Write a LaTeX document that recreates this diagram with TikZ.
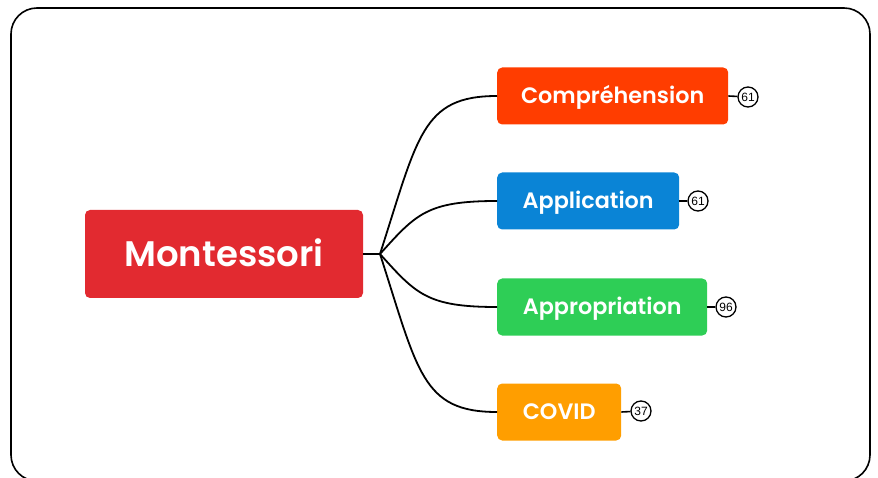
\documentclass[tikz,border=0pt]{standalone}
\usepackage{fontspec}
\setmainfont{Poppins}[BoldFont={Poppins SemiBold}]
\newfontfamily\badgefont{Liberation Sans}
\begin{document}
\begin{tikzpicture}[x=1pt,y=-1pt,
  topic/.style={rounded corners=5pt, text=white, inner sep=0pt, anchor=west,
    minimum height=57pt, text depth=0pt, text height=15.5pt,
    font=\bfseries\fontsize{22.3}{24}\selectfont},
  badge/.style={circle, draw=black, line width=1.3pt, fill=white, inner sep=0pt,
    minimum size=20pt, font=\badgefont\fontsize{12}{12}\selectfont},
  branch/.style={line width=1.8pt, black},
  tick/.style={line width=1.6pt, black}]
\useasboundingbox (0,0) rectangle (878,478);
\begin{scope}
\clip (0,0) rectangle (878,478);
\draw[line width=1.6pt, rounded corners=26pt] (11,8) rectangle (870,481);
\end{scope}

% central topic
\node[topic, fill={rgb,255:red,226;green,42;blue,48}, minimum width=278pt, minimum height=88pt,
  anchor=center, text height=24.7pt, font=\bfseries\fontsize{35.5}{38}\selectfont]
  (root) at (224,254) {Montessori};
\coordinate (hub) at (380,254);

% branch topics
\node[topic, fill={rgb,255:red,255;green,61;blue,0}, minimum width=231pt] (c1) at (497,96) {Compréhension};
\node[topic, fill={rgb,255:red,10;green,132;blue,214}, minimum width=182pt] (c2) at (497,201) {Application};
\node[topic, fill={rgb,255:red,46;green,206;blue,86}, minimum width=210pt] (c3) at (497,307) {Appropriation};
\node[topic, fill={rgb,255:red,255;green,158;blue,0}, minimum width=124pt] (c4) at (497,412) {COVID};

% count badges
\node[badge] (b1) at (748,97) {61};
\node[badge] (b2) at (698,201) {61};
\node[badge] (b3) at (726,307) {96};
\node[badge] (b4) at (641,411) {37};

% connectors
\draw[branch] (root.east) -- (hub);
\draw[branch] (hub) .. controls +(38,-118) and +(-75,0) .. (c1.west);
\draw[branch] (hub) .. controls +(36,-40) and +(-70,0) .. (c2.west);
\draw[branch] (hub) .. controls +(36,40) and +(-70,0) .. (c3.west);
\draw[branch] (hub) .. controls +(38,118) and +(-75,0) .. (c4.west);

\draw[tick] (c1.east) -- (b1);
\draw[tick] (c2.east) -- (b2);
\draw[tick] (c3.east) -- (b3);
\draw[tick] (c4.east) -- (b4);
\end{tikzpicture}
\end{document}
